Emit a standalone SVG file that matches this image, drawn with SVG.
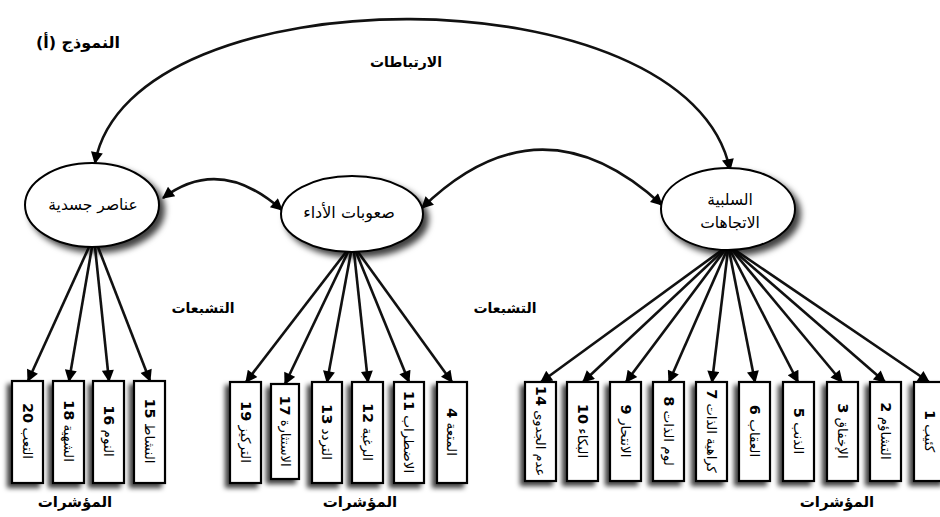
<svg xmlns="http://www.w3.org/2000/svg" width="940" height="517" viewBox="0 0 940 517">
<style>
text{font-family:"DejaVu Sans","Noto Sans",sans-serif;fill:#000}
.lbl{font-size:14px;font-weight:bold;text-anchor:middle}
.el{fill:#fff;stroke:#000;stroke-width:2;filter:url(#shE)}
.et{font-size:15.5px;text-anchor:middle;dominant-baseline:central}
.box{fill:#fff;stroke:#000;stroke-width:2.2;filter:url(#shB)}
.bt{font-size:13.5px;text-anchor:middle;dominant-baseline:central}
.bt tspan.n{font-weight:bold;font-size:14.5px}
.conn path{fill:none;stroke:#111;stroke-width:2.6;marker-end:url(#arr)}
.conn path.bi{marker-start:url(#arr)}
</style>
<defs>
<filter id="shE" x="-20%" y="-20%" width="150%" height="160%"><feDropShadow dx="5" dy="5" stdDeviation="3" flood-color="#000" flood-opacity="0.75"/></filter>
<filter id="shB" x="-40%" y="-10%" width="160%" height="125%"><feDropShadow dx="-4" dy="4" stdDeviation="2.5" flood-color="#000" flood-opacity="0.75"/></filter>
<marker id="arr" viewBox="0 0 10 10" refX="9" refY="5" markerUnits="userSpaceOnUse" markerWidth="14" markerHeight="12" orient="auto-start-reverse"><path d="M0,0 L10,5 L0,10 Z" fill="#000"/></marker>
</defs>
<rect width="940" height="517" fill="#fff"/>

<text class="lbl" x="78" y="48" style="font-size:16px">النموذج (أ)</text>
<text class="lbl" x="406" y="67">الارتباطات</text>
<text class="lbl" x="203" y="313">التشبعات</text>
<text class="lbl" x="505" y="313">التشبعات</text>
<text class="lbl" x="75" y="507" style="font-size:15px">المؤشرات</text>
<text class="lbl" x="360" y="507" style="font-size:15px">المؤشرات</text>
<text class="lbl" x="837" y="507" style="font-size:15px">المؤشرات</text>

<g class="conn" id="connectors">
<path class="bi" d="M95,163 C130,-30 690,-30 730,170"/>
<path class="bi" d="M163,198 Q220,155 282,210"/>
<path class="bi" d="M422,208 Q540,93 662,205"/>
<path d="M89,247 L28,381"/>
<path d="M92,247 L69,381"/>
<path d="M95,247 L109,381"/>
<path d="M98,247 L150,381"/>
<path d="M346,252 L246,382"/>
<path d="M348,252 L285,384"/>
<path d="M351,252 L327,382"/>
<path d="M354,252 L368,382"/>
<path d="M356,252 L409,382"/>
<path d="M358,252 L452,382"/>
<path d="M722,250 L541,382"/>
<path d="M724,250 L583,382"/>
<path d="M725,250 L626,382"/>
<path d="M727,250 L669,382"/>
<path d="M728,250 L712,382"/>
<path d="M729,250 L755,382"/>
<path d="M730,250 L798,382"/>
<path d="M732,250 L842,382"/>
<path d="M733,250 L885,382"/>
<path d="M735,250 L929,382"/>
</g>

<g id="n-physical"><ellipse class="el" cx="92" cy="205" rx="67" ry="42"/><text class="et" x="93" y="205">عناصر جسدية</text></g>
<g id="n-performance"><ellipse class="el" cx="352" cy="214" rx="71" ry="38"/><text class="et" x="349" y="212" style="font-size:16px">صعوبات الأداء</text></g>
<g id="n-attitudes"><ellipse class="el" cx="728" cy="209" rx="67" ry="41"/><text class="et" x="730" y="200">السلبية</text><text class="et" x="730" y="223">الاتجاهات</text></g>

<g id="b20"><rect class="box" x="12" y="381" width="31" height="102"/><text class="bt" transform="translate(27.5,431) rotate(90)">التعب <tspan class="n">20</tspan></text></g>
<g id="b18"><rect class="box" x="53" y="381" width="31" height="102"/><text class="bt" transform="translate(68.5,431) rotate(90)">الشهية <tspan class="n">18</tspan></text></g>
<g id="b16"><rect class="box" x="93" y="381" width="31" height="102"/><text class="bt" transform="translate(108.5,431) rotate(90)">النوم <tspan class="n">16</tspan></text></g>
<g id="b15"><rect class="box" x="134" y="381" width="31" height="102"/><text class="bt" transform="translate(149.5,431) rotate(90)">النشاط <tspan class="n">15</tspan></text></g>

<g id="b19"><rect class="box" x="230" y="382" width="31" height="101"/><text class="bt" transform="translate(245.5,432) rotate(90)">التركيز <tspan class="n">19</tspan></text></g>
<g id="b17"><rect class="box" x="271" y="384" width="28" height="95"/><text class="bt" transform="translate(285,431) rotate(90)" style="font-size:13px">الاستثارة  <tspan class="n">17</tspan></text></g>
<g id="b13"><rect class="box" x="312" y="382" width="30" height="101"/><text class="bt" transform="translate(327,432) rotate(90)">التردد <tspan class="n">13</tspan></text></g>
<g id="b12"><rect class="box" x="352" y="382" width="31" height="101"/><text class="bt" transform="translate(367.5,432) rotate(90)">الرغبة <tspan class="n">12</tspan></text></g>
<g id="b11"><rect class="box" x="394" y="382" width="30" height="101"/><text class="bt" transform="translate(409,432) rotate(90)">الاضطراب <tspan class="n">11</tspan></text></g>
<g id="b4"><rect class="box" x="437" y="382" width="30" height="101"/><text class="bt" transform="translate(452,432) rotate(90)">المتعة <tspan class="n">4</tspan></text></g>

<g id="b14"><rect class="box" x="525" y="382" width="31" height="99"/><text class="bt" transform="translate(540.5,431) rotate(90)" style="font-size:13px">عدم الجدوى <tspan class="n">14</tspan></text></g>
<g id="b10"><rect class="box" x="567" y="382" width="31" height="99"/><text class="bt" transform="translate(582.5,431) rotate(90)">البكاء <tspan class="n">10</tspan></text></g>
<g id="b9"><rect class="box" x="610" y="382" width="31" height="99"/><text class="bt" transform="translate(625.5,431) rotate(90)">الانتحار <tspan class="n">9</tspan></text></g>
<g id="b8"><rect class="box" x="653" y="382" width="31" height="99"/><text class="bt" transform="translate(668.5,431) rotate(90)">لوم الذات <tspan class="n">8</tspan></text></g>
<g id="b7"><rect class="box" x="696" y="382" width="31" height="99"/><text class="bt" transform="translate(711.5,431) rotate(90)" style="font-size:13px">كراهية الذات <tspan class="n">7</tspan></text></g>
<g id="b6"><rect class="box" x="739" y="382" width="31" height="99"/><text class="bt" transform="translate(754.5,431) rotate(90)">العقاب <tspan class="n">6</tspan></text></g>
<g id="b5"><rect class="box" x="783" y="382" width="31" height="99"/><text class="bt" transform="translate(798.5,431) rotate(90)">الذنب <tspan class="n">5</tspan></text></g>
<g id="b3"><rect class="box" x="827" y="382" width="31" height="99"/><text class="bt" transform="translate(842.5,431) rotate(90)">الإخفاق <tspan class="n">3</tspan></text></g>
<g id="b2"><rect class="box" x="870" y="382" width="31" height="99"/><text class="bt" transform="translate(885.5,431) rotate(90)">التشاؤم <tspan class="n">2</tspan></text></g>
<g id="b1"><rect class="box" x="914" y="382" width="31" height="99"/><text class="bt" transform="translate(929.5,431) rotate(90)">كئيب <tspan class="n">1</tspan></text></g>
</svg>
